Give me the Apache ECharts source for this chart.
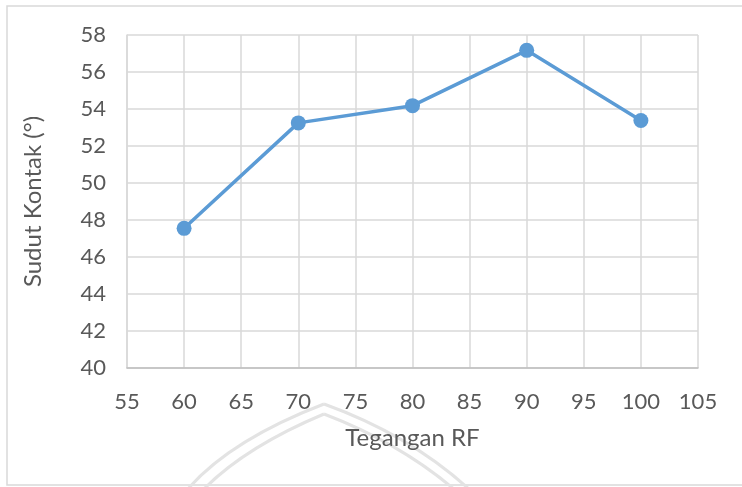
<!DOCTYPE html>
<html>
<head>
<meta charset="utf-8">
<script src="https://cdn.jsdelivr.net/npm/echarts@6/dist/echarts.min.js"></script>
<style>
  html, body { margin: 0; padding: 0; background: #fff; }
  #main { width: 742px; height: 487px; }
</style>
</head>
<body>
<div id="main"></div>
<script>
// data
var teganganRF = [60, 70, 80, 90, 100];
var sudutKontak = [47.55, 53.25, 54.18, 57.17, 53.38];

var xName = 'Tegangan RF';
var yName = 'Sudut Kontak (°)';

var points = teganganRF.map(function (x, i) {
    return [x, sudutKontak[i]];
});

var textColor = '#595959';
var gridColor = '#d9d9d9';
var fontName = 'Lato';

var myChart = echarts.init(document.getElementById('main'));

var option = {
    backgroundColor: '#ffffff',
    animation: false,
    textStyle: { fontFamily: fontName },
    grid: {
        left: 127,
        right: 44,
        top: 35,
        bottom: 119
    },
    xAxis: {
        type: 'value',
        min: 55,
        max: 105,
        interval: 5,
        name: xName,
        nameLocation: 'middle',
        nameGap: 58,
        nameTextStyle: { color: textColor, fontSize: 24, fontFamily: fontName },
        axisLine: { show: true, lineStyle: { color: '#bfbfbf', width: 1.5 } },
        axisTick: { show: false },
        axisLabel: { color: textColor, fontSize: 22, margin: 23, fontFamily: fontName },
        splitLine: { show: true, lineStyle: { color: gridColor, width: 1.5 } }
    },
    yAxis: {
        type: 'value',
        min: 40,
        max: 58,
        interval: 2,
        name: yName,
        nameLocation: 'middle',
        nameGap: 82,
        nameTextStyle: { color: textColor, fontSize: 24, fontFamily: fontName },
        axisLine: { show: true, lineStyle: { color: gridColor, width: 1.5 } },
        axisTick: { show: false },
        axisLabel: { color: textColor, fontSize: 22, margin: 21, fontFamily: fontName },
        splitLine: { show: true, lineStyle: { color: gridColor, width: 1.5 } }
    },
    series: [{
        type: 'line',
        data: points,
        symbol: 'circle',
        symbolSize: 15,
        lineStyle: { color: '#5b9bd5', width: 3.5 },
        itemStyle: { color: '#5b9bd5' }
    }],
    graphic: [
        // outer chart frame
        {
            type: 'rect',
            shape: { x: 7, y: 6, width: 760, height: 479 },
            style: { fill: null, stroke: '#d9d9d9', lineWidth: 1.5 },
            silent: true, z: -1
        },
        // faint watermark arch at the bottom
        {
            type: 'bezierCurve',
            shape: { x1: 187, y1: 490, cpx1: 230, cpy1: 440, x2: 324, y2: 404 },
            style: { stroke: '#e3e3e3', lineWidth: 3, fill: null },
            silent: true, z: -1
        },
        {
            type: 'bezierCurve',
            shape: { x1: 324, y1: 404, cpx1: 410, cpy1: 435, x2: 470, y2: 490 },
            style: { stroke: '#e3e3e3', lineWidth: 3, fill: null },
            silent: true, z: -1
        },
        {
            type: 'bezierCurve',
            shape: { x1: 203, y1: 490, cpx1: 245, cpy1: 447, x2: 324, y2: 414 },
            style: { stroke: '#e3e3e3', lineWidth: 3, fill: null },
            silent: true, z: -1
        },
        {
            type: 'bezierCurve',
            shape: { x1: 324, y1: 414, cpx1: 400, cpy1: 443, x2: 455, y2: 490 },
            style: { stroke: '#e3e3e3', lineWidth: 3, fill: null },
            silent: true, z: -1
        }
    ]
};

myChart.setOption(option);
</script>
</body>
</html>
